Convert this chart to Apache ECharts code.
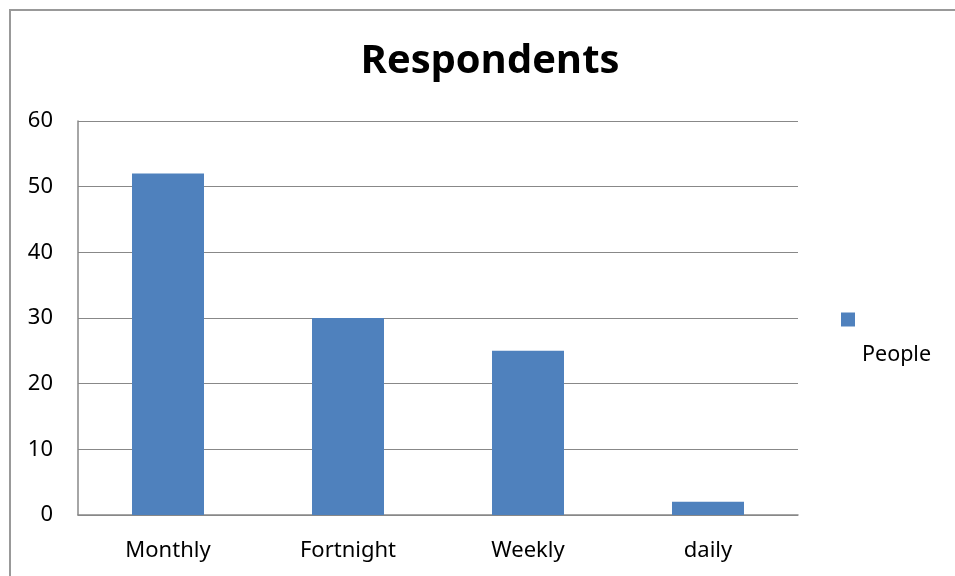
<!DOCTYPE html>
<html>
<head>
<meta charset="utf-8">
<script src="https://cdn.jsdelivr.net/npm/echarts@6/dist/echarts.min.js"></script>
<style>
  html, body { margin: 0; padding: 0; background: #fff; }
  #chart { width: 955px; height: 576px; }
</style>
</head>
<body>
<div id="chart"></div>
<script>
// data
const categories = ['Monthly', 'Fortnight', 'Weekly', 'daily']
const people = [52, 30, 25, 2]
const seriesName = 'People'

const chart = echarts.init(document.getElementById('chart'))
chart.setOption({
  animation: false,
  backgroundColor: '#fff',
  textStyle: { fontFamily: 'Noto Sans' },
  title: {
    text: 'Respondents',
    left: 490,
    textAlign: 'center',
    top: 42,
    padding: 0,
    textStyle: { fontFamily: 'Open Sans', fontWeight: 'bold', fontSize: 40, color: '#000' }
  },
  // outer chart frame
  graphic: [{
    type: 'rect',
    shape: { x: 10, y: 10, width: 1000, height: 1000 },
    style: { fill: 'none', stroke: '#999', lineWidth: 2 },
    silent: true
  }],
  legend: {
    data: [seriesName],
    left: 841,
    top: 267,
    padding: 0,
    itemWidth: 14,
    itemHeight: 14,
    itemGap: 6,
    icon: 'rect',
    formatter: '\n\n{name}',
    textStyle: { fontSize: 21.5, color: '#000', lineHeight: 35, padding: [0, 0, 0, 2] }
  },
  grid: { left: 78, right: 157, top: 121, bottom: 61 },
  xAxis: {
    type: 'category',
    data: categories,
    axisLine: { lineStyle: { color: '#888', width: 1.5 } },
    axisTick: { show: false },
    axisLabel: { color: '#000', fontSize: 22, margin: 25 }
  },
  yAxis: {
    type: 'value',
    min: 0,
    max: 60,
    interval: 10,
    axisLine: { show: true, lineStyle: { color: '#888', width: 1.5 } },
    axisTick: { show: false },
    splitLine: { lineStyle: { color: '#888', width: 1.2 } },
    axisLabel: { color: '#000', fontSize: 22, margin: 25 }
  },
  series: [{
    name: seriesName,
    type: 'bar',
    data: people,
    barWidth: '40%',
    itemStyle: { color: '#4F81BD' }
  }]
})
</script>
</body>
</html>
